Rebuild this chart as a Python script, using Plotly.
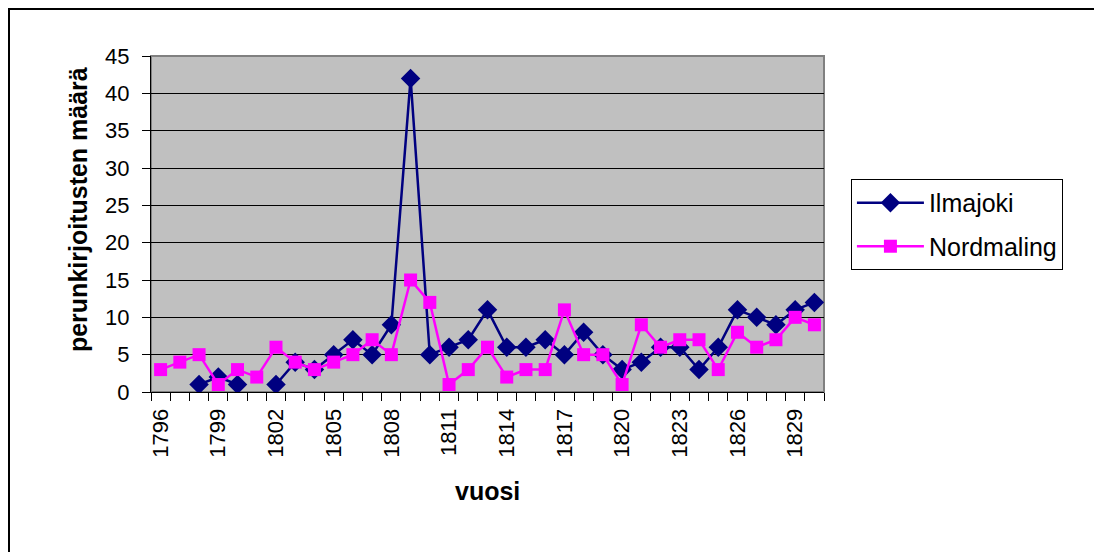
import plotly.graph_objects as go

years = list(range(1796, 1831))
ilmajoki = [None, None, 1, 2, 1, None, 1, 4, 3, 5, 7, 5, 9, 42, 5, 6, 7,
            11, 6, 6, 7, 5, 8, 5, 3, 4, 6, 6, 3, 6, 11, 10, 9, 11, 12]
nordmaling = [3, 4, 5, 1, 3, 2, 6, 4, 3, 4, 5, 7, 5, 15, 12, 1, 3,
              6, 2, 3, 3, 11, 5, 5, 1, 9, 6, 7, 7, 3, 8, 6, 7, 10, 9]
tick_years = list(range(1796, 1830, 3))

FONT = "Liberation Sans, Arial, sans-serif"

fig = go.Figure()
fig.add_trace(go.Scatter(
    x=years, y=ilmajoki, name="Ilmajoki", mode="lines+markers",
    line=dict(color="#000080", width=2.5),
    marker=dict(symbol="diamond", size=15, color="#000080"),
    legendgroup="a", connectgaps=False
))
fig.add_trace(go.Scatter(
    x=years, y=nordmaling, name="Nordmaling", mode="lines+markers",
    line=dict(color="#FF00FF", width=2.5),
    marker=dict(symbol="square", size=13, color="#FF00FF"),
    legendgroup="b"
))

fig.update_layout(
    width=1102, height=552,
    margin=dict(l=143, r=286, t=48, b=168),
    paper_bgcolor="white", plot_bgcolor="#C0C0C0",
    font=dict(family=FONT, size=22, color="black"),
    showlegend=True,
    legend=dict(
        x=1.04, y=0.634, xanchor="left", yanchor="top",
        bgcolor="white", bordercolor="black", borderwidth=1,
        font=dict(size=25), traceorder="grouped", tracegroupgap=8,
        itemwidth=67
    ),
    xaxis=dict(
        range=[1795.5, 1830.5], tickvals=tick_years, tickangle=-90,
        ticks="", showgrid=False, zeroline=False,
        showline=True, linecolor="black", linewidth=1,
        minor=dict(tick0=1795.5, dtick=1, ticks="outside", ticklen=8,
                   tickcolor="black", showgrid=False),
        tickfont=dict(size=22), ticklabelstandoff=7
    ),
    yaxis=dict(
        range=[0, 45], dtick=5, ticks="outside", ticklen=8, tickcolor="black",
        showgrid=True, gridcolor="black", gridwidth=1, zeroline=False,
        showline=True, linecolor="black", linewidth=1,
        tickfont=dict(size=22), ticklabelstandoff=8
    ),
    shapes=[
        # gray frame of the plot area
        dict(type="rect", xref="paper", yref="paper", x0=0, x1=1, y0=0, y1=1,
             line=dict(color="#808080", width=2), layer="below"),
        # outer chart border, runs past the right and bottom edges
        dict(type="rect", xref="paper", yref="paper", x0=-0.2110, x1=2,
             y0=-2, y1=1.140, line=dict(color="black", width=2)),
    ],
    annotations=[
        dict(text="<b>perunkirjoitusten määrä</b>", textangle=-90,
             xref="paper", yref="paper", x=-0.132, y=0.542,
             showarrow=False, font=dict(size=25)),
        dict(text="<b>vuosi</b>", xref="paper", yref="paper",
             x=0.5, y=-0.342, showarrow=False, font=dict(size=25)),
    ],
)

fig.write_html("out.html")
